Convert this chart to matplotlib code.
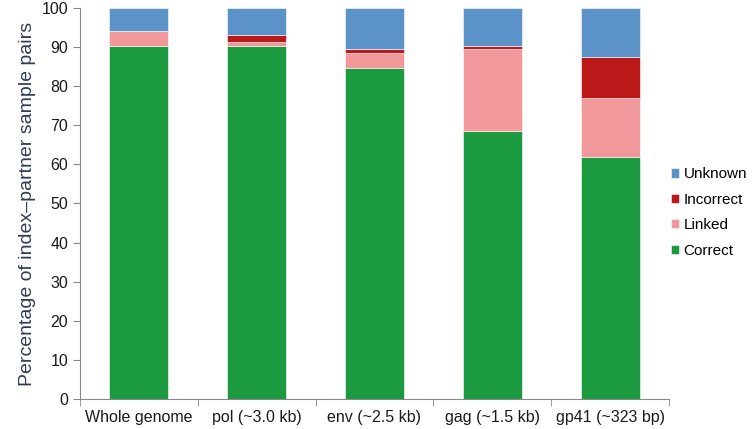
import matplotlib.pyplot as plt
import numpy as np

plt.rcParams['font.family'] = ['Liberation Sans', 'DejaVu Sans']

regions = ['Whole genome', 'pol (~3.0 kb)', 'env (~2.5 kb)', 'gag (~1.5 kb)', 'gp41 (~323 bp)']
correct = [90.4, 90.4, 84.7, 68.5, 61.9]
linked = [3.8, 1.0, 3.7, 20.9, 15.1]
incorrect = [0.0, 1.8, 1.0, 1.0, 10.5]
unknown = [5.8, 6.8, 10.6, 9.6, 12.5]

series = [('Correct', correct, '#1b9a40'),
          ('Linked', linked, '#f0989a'),
          ('Incorrect', incorrect, '#bb1919'),
          ('Unknown', unknown, '#5b93c9')]

fig = plt.figure(figsize=(7.52, 4.29), dpi=100)
ax = fig.add_axes([0.1064, 0.0699, 0.7832, 0.9115])

x = np.arange(len(regions))
bottom = np.zeros(len(regions))
for name, vals, col in series:
    ax.bar(x, vals, 0.5, bottom=bottom, color=col, label=name,
           edgecolor='#ffffff', linewidth=0.4)
    bottom += np.array(vals)

ax.set_xlim(-0.5, len(regions) - 0.5)
ax.set_ylim(0, 100)
ax.set_yticks(range(0, 101, 10))
ax.set_xticks(x)
ax.set_xticklabels(regions, fontsize=11.5, color='#1a1a1a')
ax.set_xticks(np.arange(-0.5, len(regions)), minor=True)
ax.tick_params(axis='x', which='major', length=0, pad=8)
ax.tick_params(axis='x', which='minor', length=5, color='#888888')
ax.tick_params(axis='y', labelsize=11.5, labelcolor='#1a1a1a', length=5, color='#888888')

for s in ['top', 'right']:
    ax.spines[s].set_visible(False)
for s in ['left', 'bottom']:
    ax.spines[s].set_color('#888888')

ax.set_ylabel('Percentage of index\u2013partner sample pairs', fontsize=14, color='#2f3b5c')

h, l = ax.get_legend_handles_labels()
ax.legend(h[::-1], l[::-1], loc='center left', bbox_to_anchor=(1.0, 0.477),
          frameon=False, fontsize=11, handlelength=0.55, handleheight=0.55,
          handletextpad=0.3, labelspacing=0.75, borderaxespad=0.1, borderpad=0)

fig.savefig('out.png', dpi=100)
